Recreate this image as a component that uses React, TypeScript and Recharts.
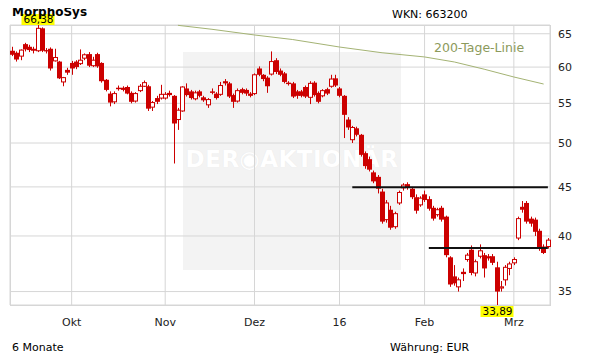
import React from 'react';
import { ComposedChart, Bar, Line, XAxis, YAxis, CartesianGrid, ReferenceLine } from 'recharts';

const opens = [62.4, 62.1, 61.6, 63.4, 63.0, 62.7, 62.4, 65.85, 62.5, 62.7, 60.9, 60.8, 57.9, 59.6, 60.6, 60.8, 60.5, 61.3, 61.9, 60.2,
  61.9, 60.6, 58.2, 56.3, 55.2, 57.1, 57.1, 57.2, 56.4, 55.3, 56.7, 57.3, 57.3, 54.5, 55.7, 55.7, 55.7, 56.4, 56.0, 52.9,
  54.0, 57.0, 56.6, 55.6, 56.6, 55.8, 54.8, 56.6, 56.3, 56.2, 58.0, 57.7, 56.1, 55.3, 56.9, 56.8, 56.3, 56.3, 59.8, 58.9,
  58.5, 59.0, 61.0, 59.5, 59.1, 57.8, 57.7, 56.6, 56.6, 57.2, 55.8, 57.8, 56.4, 56.0, 56.9, 57.3, 58.4, 57.0, 56.0, 52.9,
  50.4, 51.8, 51.0, 48.8, 48.1, 46.6, 46.1, 44.5, 41.6, 42.6, 40.9, 43.3, 44.9, 45.3, 44.8, 43.9, 43.1, 44.2, 43.7, 42.8,
  42.1, 42.8, 41.9, 38.0, 36.3, 35.4, 36.7, 37.8, 38.7, 36.6, 38.1, 38.2, 38.1, 38.1, 37.1, 35.3, 36.0, 37.0, 37.5, 39.8,
  42.9, 43.3, 41.7, 41.6, 40.5, 39.0, 39.0];
const highs = [63.0, 62.3, 62.6, 63.6, 63.3, 63.0, 66.38, 66.0, 62.8, 62.9, 62.7, 60.9, 58.6, 59.9, 60.9, 61.0, 62.6, 62.0, 62.2, 61.5,
  62.1, 60.7, 58.3, 56.6, 56.6, 57.4, 57.3, 57.4, 56.6, 56.5, 57.6, 58.1, 57.5, 55.3, 56.0, 57.5, 56.5, 56.7, 56.1, 54.4,
  57.3, 57.7, 56.8, 56.7, 56.8, 56.0, 55.7, 57.0, 56.5, 57.9, 58.3, 57.9, 56.3, 57.0, 57.1, 57.0, 56.5, 59.1, 60.1, 59.0,
  58.7, 62.3, 61.3, 59.8, 59.3, 58.0, 57.9, 56.8, 56.8, 57.4, 58.0, 58.0, 56.6, 56.9, 57.1, 58.9, 58.9, 57.2, 56.1, 53.2,
  52.1, 52.0, 51.1, 49.0, 48.4, 46.8, 46.3, 44.8, 43.6, 43.0, 42.4, 44.6, 45.4, 45.5, 45.0, 44.2, 44.0, 44.6, 44.0, 43.0,
  42.8, 43.0, 42.0, 38.1, 37.3, 36.2, 37.0, 38.4, 39.1, 37.8, 39.2, 38.4, 38.3, 38.3, 37.6, 35.9, 37.3, 37.6, 38.0, 41.9,
  43.5, 43.5, 41.9, 41.8, 40.7, 39.2, 39.8];
const lows = [61.6, 60.8, 61.0, 62.3, 62.2, 62.0, 62.2, 62.2, 62.0, 59.5, 60.8, 58.3, 57.3, 58.9, 58.9, 59.7, 60.3, 61.0, 60.0, 60.0,
  59.9, 57.8, 56.6, 54.6, 54.9, 56.7, 56.6, 56.2, 55.0, 55.1, 56.5, 57.2, 54.0, 54.0, 54.9, 55.5, 55.5, 55.9, 47.6, 51.6,
  53.9, 55.9, 55.5, 55.4, 55.8, 55.2, 54.4, 56.2, 55.5, 56.0, 57.4, 55.7, 54.4, 55.1, 56.2, 56.0, 55.8, 56.1, 58.7, 58.0,
  56.4, 58.8, 59.0, 58.7, 57.7, 57.4, 55.7, 55.6, 55.8, 55.7, 54.9, 55.9, 55.0, 55.8, 56.1, 57.1, 57.2, 55.8, 50.6, 51.6,
  50.0, 50.8, 48.4, 47.0, 46.7, 45.4, 44.3, 41.2, 41.3, 40.6, 40.7, 43.1, 44.6, 44.7, 43.7, 42.2, 42.9, 43.4, 42.5, 41.5,
  41.9, 41.4, 38.0, 35.4, 35.5, 35.0, 35.9, 37.6, 36.4, 36.3, 37.9, 36.2, 37.7, 37.3, 33.89, 35.0, 35.5, 36.4, 37.3, 39.6,
  42.3, 41.2, 40.9, 40.0, 38.6, 38.3, 38.8];
const closes = [61.8, 61.1, 62.5, 62.6, 62.5, 62.4, 65.85, 62.4, 62.3, 59.8, 61.4, 58.4, 58.5, 59.2, 59.8, 60.0, 61.0, 61.8, 60.2, 61.0,
  60.1, 58.0, 56.8, 55.1, 56.3, 56.9, 56.8, 56.3, 55.2, 56.3, 57.3, 57.8, 54.3, 55.1, 55.2, 56.2, 56.2, 56.1, 52.4, 54.1,
  57.2, 56.1, 55.7, 56.4, 56.0, 55.4, 55.5, 56.4, 55.7, 57.4, 57.7, 55.9, 55.2, 56.7, 56.4, 56.3, 56.0, 58.9, 58.9, 58.3,
  57.3, 60.8, 59.3, 58.9, 57.9, 57.6, 55.9, 56.0, 56.0, 55.9, 57.7, 56.1, 55.2, 56.7, 56.3, 58.3, 57.4, 56.0, 53.5, 51.9,
  51.9, 51.0, 48.6, 47.3, 46.9, 45.6, 44.8, 41.4, 43.3, 40.8, 42.2, 44.4, 45.2, 44.9, 43.9, 42.5, 43.8, 43.6, 42.7, 41.7,
  42.6, 41.6, 38.2, 35.6, 35.7, 36.0, 36.5, 38.2, 36.6, 37.6, 38.6, 37.0, 37.9, 37.5, 35.0, 35.4, 37.1, 37.4, 37.8, 41.7,
  42.6, 41.4, 41.2, 40.4, 38.8, 38.4, 39.6];

// 200-day line, read at a few trading days (index: value)
const smaIndex = [39, 47, 57, 66, 77, 87, 97, 104, 111, 118, 125];
const smaValue = [66.33, 65.7, 64.81, 64.1, 62.96, 62.1, 61.48, 60.74, 59.7, 58.59, 57.61];

const monthTickIndex = [14, 36, 57, 77, 97, 118];
const monthTickLabels = ['Okt', 'Nov', 'Dez', '16', 'Feb', 'Mrz'];
const yTicks = [35, 40, 45, 50, 55, 60, 65];

const resistanceLevel = 44.95;
const resistanceFrom = 80;
const supportLevel = 38.85;
const supportFrom = 98;

const lastIndex = opens.length - 1;
const maxHigh = Math.max(...highs);
const minLow = Math.min(...lows);

const data = opens.map((o, i) => {
  const k = smaIndex.indexOf(i);
  return {
    i,
    open: o,
    high: highs[i],
    low: lows[i],
    close: closes[i],
    range: [lows[i], highs[i]],
    sma: k >= 0 ? smaValue[k] : null,
  };
});

const RED = '#cc0000';
const FONT = '"DejaVu Sans", Verdana, sans-serif';

const fmt = (v: number) => v.toFixed(2).replace('.', ',');

const Candle = (props: any) => {
  const { x, y, width, height, payload } = props;
  if (!payload || x == null) return null;
  const { open, close, high, low } = payload;
  const top = Math.min(y, y + height);
  const h = Math.abs(height);
  const lh = Math.log(high);
  const ll = Math.log(low);
  const span = lh - ll;
  const pos = (v: number) => (span > 0 ? top + (h * (lh - Math.log(v))) / span : top);
  const cx = Math.round(x + width / 2) + 0.5;
  const up = close >= open;
  const bTop = pos(Math.max(open, close));
  const bBot = pos(Math.min(open, close));
  const bodyH = Math.max(1, bBot - bTop);
  const left = cx - 2.5;
  return (
    <g>
      <line x1={cx} x2={cx} y1={top} y2={top + h} stroke={RED} strokeWidth={1} />
      {up ? (
        <rect x={left + 0.5} y={bTop} width={4} height={bodyH} fill="#fff" stroke={RED} strokeWidth={1} />
      ) : (
        <rect x={left} y={bTop} width={5} height={bodyH} fill={RED} />
      )}
      {high === maxHigh && (
        <g>
          <rect x={cx - 17} y={top - 11} width={33} height={11} fill="#ffff00" />
          <text x={cx} y={top - 2} textAnchor="middle" fontSize={10.5} fontFamily={FONT} fill="#000">
            {fmt(high)}
          </text>
        </g>
      )}
      {low === minLow && (
        <g>
          <rect x={cx - 17} y={top + h + 1} width={33} height={11} fill="#ffff00" />
          <text x={cx} y={top + h + 10} textAnchor="middle" fontSize={10.5} fontFamily={FONT} fill="#000">
            {fmt(low)}
          </text>
        </g>
      )}
    </g>
  );
};

const textStyle: React.CSSProperties = { position: 'absolute', fontFamily: FONT, whiteSpace: 'nowrap', lineHeight: 1 };

export default function App() {
  return (
    <div style={{ position: 'relative', width: 611, height: 364, margin: -8, background: '#fff', overflow: 'hidden' }}>
      <div style={{ position: 'absolute', left: 183, top: 52, width: 218, height: 218, background: '#f3f3f3' }} />
      <div style={{ ...textStyle, left: 183, top: 148, width: 218, textAlign: 'center', color: '#fff', fontWeight: 'bold', fontSize: 23, letterSpacing: 0.5, textShadow: '0 0 1px #e4e4e4' }}>
        DER◉AKTIONÄR
      </div>
      <div style={{ position: 'absolute', left: 10, top: 25, width: 541, height: 281, border: '1px solid #d6d6d6', boxSizing: 'border-box' }} />
      <div style={{ position: 'absolute', left: 0, top: 0 }}>
        <ComposedChart width={611} height={364} data={data} margin={{ top: 25, right: 11, bottom: 29, left: 10 }} style={{ fontFamily: FONT, overflow: 'visible' }}>
          <CartesianGrid stroke="#d6d6d6" strokeWidth={1} />
          <XAxis
            dataKey="i"
            type="category"
            ticks={monthTickIndex}
            interval={0}
            tickFormatter={(v: number) => monthTickLabels[monthTickIndex.indexOf(v)] ?? ''}
            tickLine={false}
            axisLine={false}
            height={30}
            tickMargin={7}
            tick={{ fontSize: 11, fill: '#222', fontFamily: FONT }}
          />
          <YAxis
            orientation="right"
            scale="log"
            domain={[minLow, maxHigh]}
            ticks={yTicks}
            tickLine={false}
            axisLine={false}
            width={50}
            tick={{ fontSize: 11, fill: '#222', fontFamily: FONT }}
          />
          <Line dataKey="sma" stroke="#a4b374" strokeWidth={1} dot={false} connectNulls isAnimationActive={false} />
          <Bar dataKey="range" barSize={4} shape={(p: any) => <Candle {...p} />} isAnimationActive={false} />
          <ReferenceLine segment={[{ x: resistanceFrom, y: resistanceLevel }, { x: lastIndex, y: resistanceLevel }]} stroke="#111" strokeWidth={2} />
          <ReferenceLine segment={[{ x: supportFrom, y: supportLevel }, { x: lastIndex, y: supportLevel }]} stroke="#111" strokeWidth={2} />
        </ComposedChart>
      </div>
      <div style={{ ...textStyle, left: 12, top: 6, fontSize: 12, fontWeight: 'bold', color: '#000' }}>MorphoSys</div>
      <div style={{ ...textStyle, left: 392, top: 9, fontSize: 11, color: '#000' }}>WKN: 663200</div>
      <div style={{ ...textStyle, left: 434, top: 42, fontSize: 12.5, color: '#8c9a5c' }}>200-Tage-Linie</div>
      <div style={{ ...textStyle, left: 12, top: 342, fontSize: 11, color: '#000' }}>6 Monate</div>
      <div style={{ ...textStyle, left: 390, top: 342, fontSize: 11, color: '#000' }}>Währung: EUR</div>
    </div>
  );
}
